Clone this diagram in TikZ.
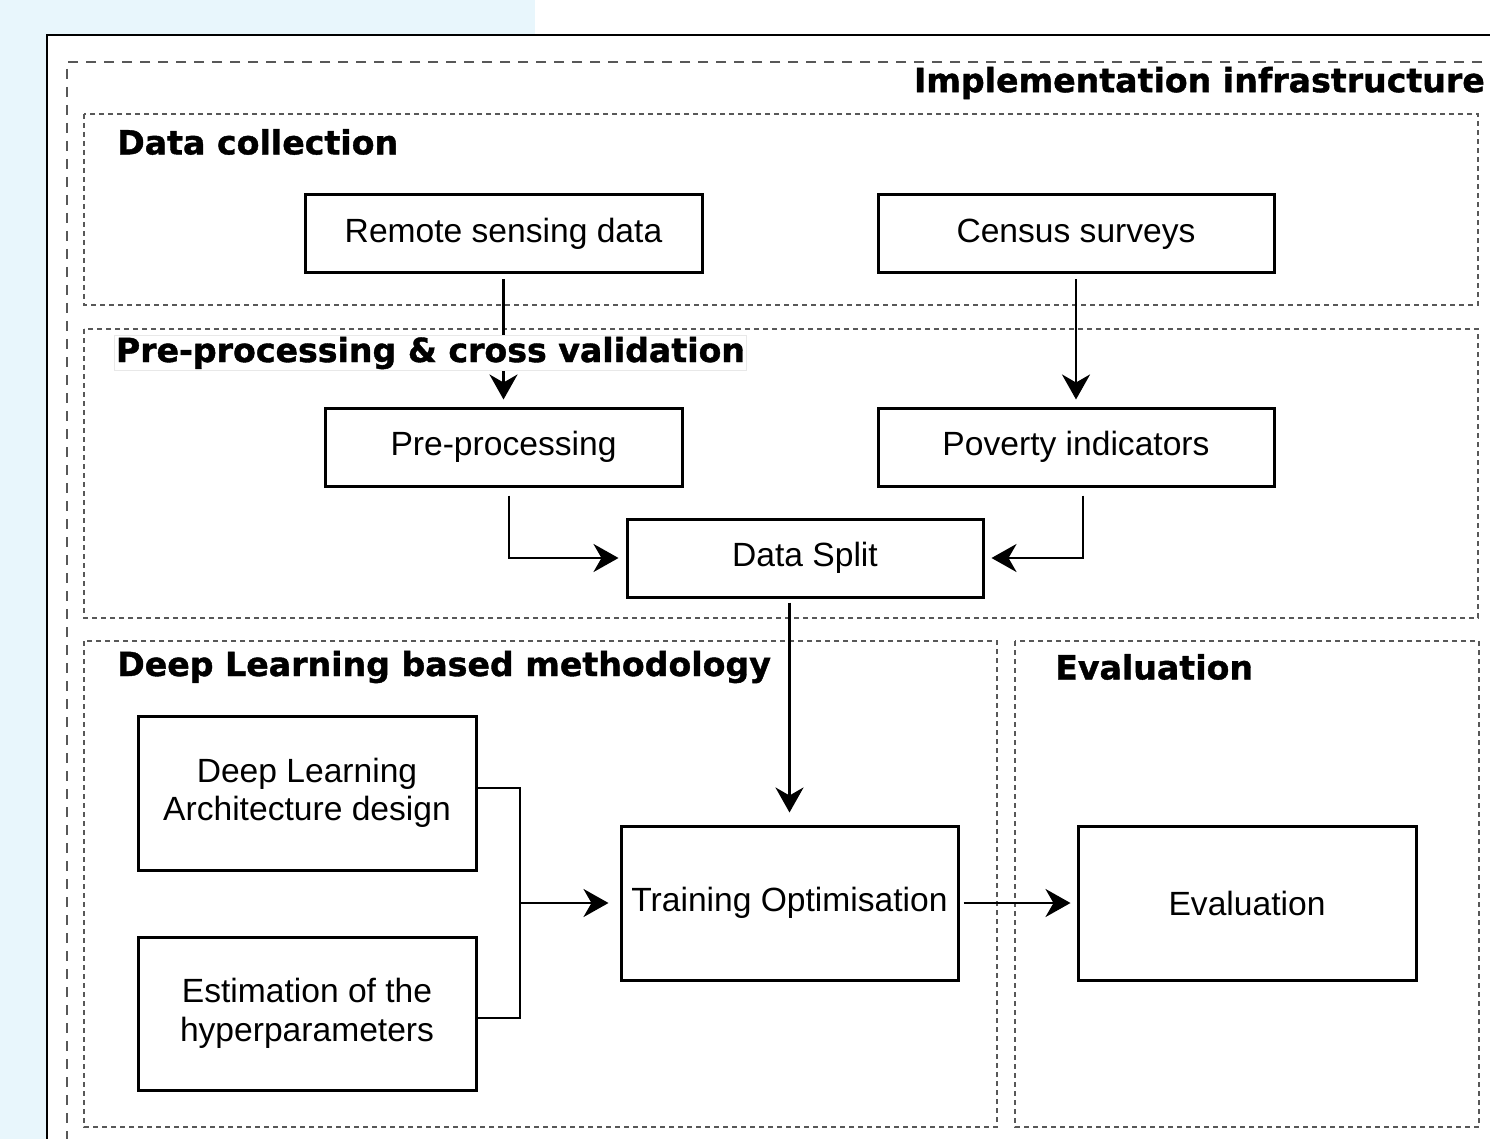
\documentclass[tikz,border=0pt]{standalone}
\usepackage{fontspec}
\setmainfont{Liberation Sans}
\newfontfamily\headfont[BoldFeatures={FakeBold=1.2}]{DejaVu Sans}
\usetikzlibrary{arrows.meta}
\definecolor{bgblue}{HTML}{E8F6FC}
\definecolor{dashgray}{HTML}{585858}
\tikzset{
  box/.style={draw=black, line width=3pt, fill=white, align=center, inner sep=2pt,
    font=\fontsize{33.6}{38.5}\selectfont},
  group/.style={draw=dashgray, line width=1.8pt, dash pattern=on 5pt off 4pt},
  heading/.style={inner sep=0pt, font=\headfont\bfseries\fontsize{33.2}{38}\selectfont},
  conn/.style={draw=black, line width=2.8pt},
  arr/.style={conn, -{Stealth[length=25pt,width=28pt,inset=8pt]}},
}
\begin{document}
\begin{tikzpicture}[x=1pt,y=-1pt]
\useasboundingbox (0,0) rectangle (1490,1139);
\clip (0,0) rectangle (1490,1139);
% background
\fill[bgblue] (0,0) rectangle (535,1139);
\fill[white] (47,35) rectangle (1500,1150);
\draw[line width=2.6pt] (1500,35) -- (47,35) -- (47,1150);
% outer long-dashed frame
\draw[dashgray, line width=1.4pt, dash pattern=on 10pt off 8pt] (1500,62) -- (67,62) -- (67,1150);
\node[heading, anchor=east] (tinf) at (1485,83) {Implementation infrastructure};
% groups
\draw[group] (84,114) rectangle (1478,305);
\draw[group] (84,329) rectangle (1478,618);
\draw[group] (84,641) rectangle (997,1127);
\draw[group] (1015,641) rectangle (1479,1127);
\node[heading, anchor=west] (tdc) at (117,142) {Data collection};
\node[heading, anchor=west] (tdm) at (117,667) {Deep Learning based methodology};
\node[heading, anchor=west] (tev) at (1055,667) {Evaluation};
% boxes
\node[box, minimum width=397pt, minimum height=78pt] (rs) at (503.5,234) {Remote sensing data};
\node[box, minimum width=396pt, minimum height=78pt] (cs) at (1076,234) {Census surveys};
\node[box, minimum width=357pt, minimum height=78pt] (pp) at (503.5,447) {Pre-processing};
\node[box, minimum width=396pt, minimum height=78pt] (pi) at (1076,447) {Poverty indicators};
\node[box, minimum width=356pt, minimum height=78pt] (ds) at (805,558) {Data Split};
\node[box, minimum width=337pt, minimum height=154pt] (to) at (789.5,903) {Training Optimisation};
\node[box, minimum width=338pt, minimum height=154pt] (ev) at (1247,903) {Evaluation};
\node[box, minimum width=338pt, minimum height=154pt] (dl) at (307,793) {Deep Learning\\Architecture design};
\node[box, minimum width=338pt, minimum height=153pt] (es) at (307,1013.5) {Estimation of the\\hyperparameters};
% connectors
\draw[arr] ([yshift=-5pt]rs.south) -- ([yshift=7pt]pp.north);
\node[heading, anchor=west, fill=white, draw=gray!18, line width=0.8pt, inner sep=1.5pt] (tpc) at (114,353) {Pre-processing \& cross validation};
\draw[arr] ([yshift=-5pt]cs.south) -- ([yshift=7pt]pi.north);
\draw[arr] ([xshift=5.5pt,yshift=-8pt]pp.south) |- ([xshift=-7pt]ds.west);
\draw[arr] ([xshift=7pt,yshift=-8pt]pi.south) |- ([xshift=7pt]ds.east);
\path (to.north |- ds.south) ++(0,4) coordinate (dsb);
\draw[arr] (dsb) -- ([yshift=12pt]to.north);
\coordinate (bx) at (520,903);
\draw[conn] ([yshift=5pt]dl.east) -| (bx) |- ([yshift=-4.5pt]es.east);
\draw[arr] (bx) -- ([xshift=-11pt]to.west);
\draw[arr] ([xshift=4pt]to.east) -- ([xshift=-6pt]ev.west);
\end{tikzpicture}
\end{document}
